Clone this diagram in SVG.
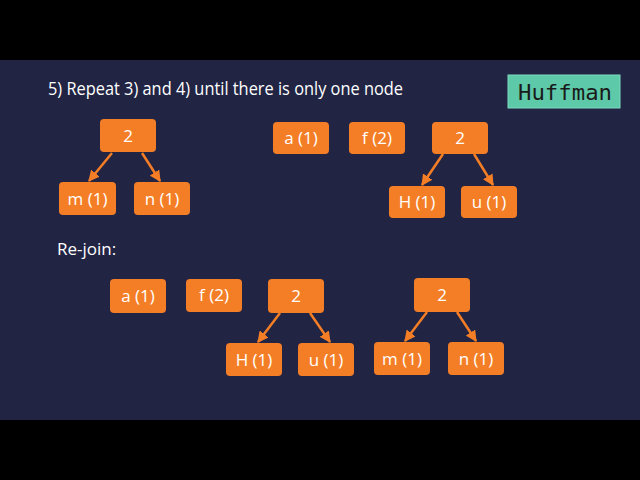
<svg xmlns="http://www.w3.org/2000/svg" width="640" height="480" viewBox="0 0 640 480">
<defs>
<style>
.n rect{fill:#F47E26;}
.n text{fill:#ffffff;font-family:"Open Sans","Liberation Sans",sans-serif;font-size:17px;text-anchor:middle;}
.c line{stroke:#F47E26;stroke-width:2.5;marker-end:url(#ah);}
</style>
<marker id="ah" viewBox="0 0 10 10" refX="9" refY="5" markerWidth="4.5" markerHeight="4.5" orient="auto" markerUnits="strokeWidth">
<path d="M0,0 L10,5 L0,10 z" fill="#F47E26"/>
</marker>
</defs>
<rect x="0" y="0" width="640" height="480" fill="#000"/>
<rect x="0" y="60" width="640" height="360" fill="#212443"/>
<text x="48" y="95" fill="#fff" font-family="Open Sans, Liberation Sans, sans-serif" font-size="18" textLength="355" lengthAdjust="spacingAndGlyphs">5) Repeat 3) and 4) until there is only one node</text>
<g id="huffman">
<rect x="508" y="75" width="112" height="33" fill="#5DC9A8" stroke="#7fdcc0" stroke-width="1"/>
<text x="518" y="100" fill="#1a1a1a" font-family="DejaVu Sans Mono, Liberation Mono, monospace" font-size="22" textLength="94" lengthAdjust="spacingAndGlyphs">Huffman</text>
</g>
<text x="57" y="255" fill="#fff" font-family="Open Sans, Liberation Sans, sans-serif" font-size="17">Re-join:</text>
<g class="c" id="connectors">
<line x1="112" y1="153" x2="89" y2="181"/>
<line x1="142" y1="153" x2="160" y2="181"/>
<line x1="443" y1="154" x2="422" y2="185"/>
<line x1="474" y1="154" x2="493" y2="185"/>
<line x1="280" y1="313" x2="258" y2="342"/>
<line x1="310" y1="313" x2="330" y2="342"/>
<line x1="427" y1="312" x2="405" y2="341"/>
<line x1="457" y1="312" x2="476" y2="341"/>
</g>
<g class="n" id="t1-root"><rect x="100" y="119" width="56" height="33" rx="4"/><text x="128" y="142">2</text></g>
<g class="n" id="t1-m"><rect x="59" y="182" width="57" height="33" rx="4"/><text x="87.5" y="205">m (1)</text></g>
<g class="n" id="t1-n"><rect x="134" y="182" width="56" height="33" rx="4"/><text x="162" y="205">n (1)</text></g>
<g class="n" id="t2-a"><rect x="273" y="122" width="56" height="32" rx="4"/><text x="301" y="144">a (1)</text></g>
<g class="n" id="t2-f"><rect x="349" y="122" width="56" height="32" rx="4"/><text x="377" y="144">f (2)</text></g>
<g class="n" id="t2-root"><rect x="432" y="122" width="56" height="32" rx="4"/><text x="460" y="144">2</text></g>
<g class="n" id="t2-H"><rect x="389" y="186" width="56" height="32" rx="4"/><text x="417" y="208">H (1)</text></g>
<g class="n" id="t2-u"><rect x="461" y="186" width="56" height="32" rx="4"/><text x="489" y="208">u (1)</text></g>
<g class="n" id="t3-a"><rect x="110" y="279" width="56" height="34" rx="4"/><text x="138" y="302">a (1)</text></g>
<g class="n" id="t3-f"><rect x="186" y="279" width="56" height="33" rx="4"/><text x="214" y="301">f (2)</text></g>
<g class="n" id="t3-root"><rect x="268" y="279" width="56" height="34" rx="4"/><text x="296" y="302">2</text></g>
<g class="n" id="t3-H"><rect x="226" y="343" width="56" height="33" rx="4"/><text x="254" y="366">H (1)</text></g>
<g class="n" id="t3-u"><rect x="298" y="343" width="56" height="33" rx="4"/><text x="326" y="366">u (1)</text></g>
<g class="n" id="t4-root"><rect x="414" y="278" width="56" height="34" rx="4"/><text x="442" y="301">2</text></g>
<g class="n" id="t4-m"><rect x="374" y="342" width="56" height="33" rx="4"/><text x="402" y="365">m (1)</text></g>
<g class="n" id="t4-n"><rect x="448" y="342" width="56" height="33" rx="4"/><text x="476" y="365">n (1)</text></g>
</svg>
